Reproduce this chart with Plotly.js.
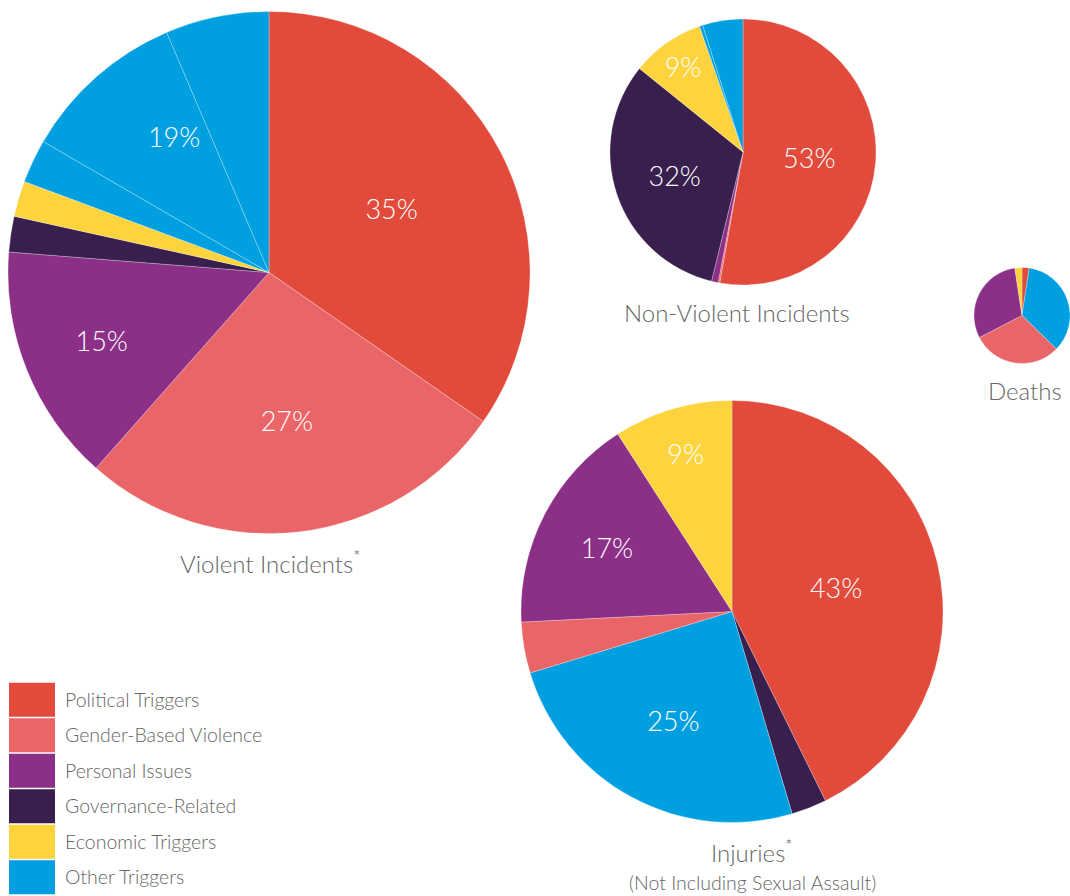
<!DOCTYPE html>
<html><head><meta charset="utf-8">
<script src="https://cdn.plot.ly/plotly-3.0.1.min.js"></script>
<style>html,body{margin:0;padding:0;background:#fff}#chart{width:1070px;height:896px}</style>
</head><body><div id="chart"></div>
<script>
// ---- data ----
const categories = ['Political Triggers','Gender-Based Violence','Personal Issues','Governance-Related','Economic Triggers','Other Triggers'];
const categoryColors = ['#E24B3C','#EA6568','#8B2F87','#381F4E','#FDD33E','#009FE0'];

const violentLabels = ['Political Triggers','Gender-Based Violence','Personal Issues','Governance-Related','Economic Triggers','Other Triggers'];
const violentValues = [34.6, 26.8, 14.7, 2.2, 2.2, 19.3];
const violentOtherParts = [2.7, 10.2, 6.4];

const nonViolentLabels = ['Political Triggers','Gender-Based Violence','Personal Issues','Governance-Related','Economic Triggers','Other Triggers'];
const nonViolentValues = [52.8, 0.2, 0.8, 32.0, 8.9, 5.3];
const nonViolentOtherParts = [0.4, 4.9];

const deathsLabels = ['Political Triggers','Other Triggers','Gender-Based Violence','Personal Issues','Economic Triggers'];
const deathsValues = [2.4, 34.9, 30.1, 30.2, 2.4];

const injuriesLabels = ['Political Triggers','Governance-Related','Other Triggers','Gender-Based Violence','Personal Issues','Economic Triggers'];
const injuriesValues = [42.7, 2.7, 24.9, 3.9, 16.7, 9.1];

const titles = {
  violent: 'Violent Incidents<sup>*</sup>',
  nonViolent: 'Non-Violent Incidents',
  deaths: 'Deaths',
  injuries: 'Injuries<sup>*</sup>',
  injuriesSub: '(Not Including Sexual Assault)'
};

// ---- layout helpers ----
const W = 1070, H = 896;
const FONT = 'Lato, "Open Sans", sans-serif';
const GREY = '#666666';
const LABEL_MIN = 8; // only slices of at least this share get a percentage label

function dom(cx, cy, r) {
  return {x: [(cx - r) / W, (cx + r) / W], y: [1 - (cy + r) / H, 1 - (cy - r) / H]};
}
function colorOf(lab) { return categoryColors[categories.indexOf(lab)]; }

function expanded(labels, values, parts) {
  const L = [], V = [], C = [];
  labels.forEach((lab, i) => {
    if (lab === 'Other Triggers' && parts) {
      parts.forEach((p, j) => { L.push(lab + ' ' + (j + 1)); V.push(p); C.push(colorOf(lab)); });
    } else { L.push(lab); V.push(values[i]); C.push(colorOf(lab)); }
  });
  return {L, V, C};
}

const base = {
  type: 'pie', sort: false, direction: 'clockwise', rotation: 0,
  showlegend: false, hoverinfo: 'label+percent', textinfo: 'none'
};
const edge = {color: 'rgba(255,255,255,0.45)', width: 0.6};

function fillPie(labels, values, parts, domain) {
  const e = expanded(labels, values, parts);
  return Object.assign({}, base, {
    labels: e.L, values: e.V, domain: domain,
    marker: {colors: e.C, line: edge}
  });
}
function textPie(labels, values, domain, transparent) {
  const total = values.reduce((a, b) => a + b, 0);
  const big = values.map(v => 100 * v / total >= LABEL_MIN);
  return Object.assign({}, base, {
    labels: labels, values: values, domain: domain,
    marker: {colors: transparent ? labels.map(() => 'rgba(0,0,0,0)') : labels.map(colorOf),
             line: transparent ? {width: 0} : edge},
    texttemplate: '%{percent:.0%}',
    textinfo: 'percent',
    textposition: big.map(b => (b ? 'inside' : 'none')),
    insidetextorientation: 'horizontal',
    textfont: {family: FONT, size: 27, color: '#ffffff', weight: 300},
    hoverinfo: 'skip'
  });
}

const dViolent = dom(269, 272.5, 261);
const dNonViolent = dom(743, 152, 133);
const dDeaths = dom(1022, 315.5, 48);
const dInjuries = dom(732, 611.5, 211);

const traces = [
  fillPie(violentLabels, violentValues, violentOtherParts, dViolent),
  textPie(violentLabels, violentValues, dViolent, true),
  fillPie(nonViolentLabels, nonViolentValues, nonViolentOtherParts, dNonViolent),
  textPie(nonViolentLabels, nonViolentValues, dNonViolent, true),
  fillPie(deathsLabels, deathsValues, null, dDeaths),
  textPie(injuriesLabels, injuriesValues, dInjuries, false),
  { // legend swatches
    type: 'bar', orientation: 'h', x: categories.map(() => 1), y: categories,
    marker: {color: categoryColors, line: {width: 0}}, xaxis: 'x', yaxis: 'y',
    hoverinfo: 'skip', showlegend: false
  }
];

function ann(text, cx, cy, size) {
  return {text: text, x: cx / W, y: 1 - cy / H, xref: 'paper', yref: 'paper',
          xanchor: 'center', yanchor: 'middle', showarrow: false,
          font: {family: FONT, size: size, color: GREY, weight: 300}};
}

const layout = {
  width: W, height: H, margin: {l: 0, r: 0, t: 0, b: 0},
  paper_bgcolor: '#ffffff', plot_bgcolor: '#ffffff',
  font: {family: FONT, color: GREY},
  bargap: 0.045,
  xaxis: {domain: [9 / W, 55 / W], range: [0, 1], visible: false, fixedrange: true},
  yaxis: {domain: [1 - 895 / H, 1 - 682 / H], autorange: 'reversed', side: 'right',
          showgrid: false, zeroline: false, showline: false, ticks: '',
          ticklabelstandoff: 9, fixedrange: true,
          tickfont: {family: FONT, size: 19.5, color: GREY, weight: 300}},
  annotations: [
    ann(titles.violent, 270, 562, 24),
    ann(titles.nonViolent, 737, 312, 24),
    ann(titles.deaths, 1024.5, 390, 24),
    ann(titles.injuries, 751, 851, 24),
    ann(titles.injuriesSub, 752, 882, 19.5)
  ]
};

Plotly.newPlot('chart', traces, layout, {displayModeBar: false, staticPlot: true});
</script>
</body></html>
